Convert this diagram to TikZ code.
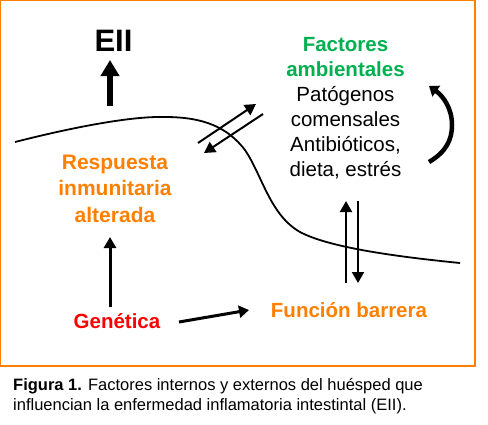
\documentclass[tikz,border=0pt]{standalone}
\usepackage{fontspec}
\setmainfont{Liberation Sans}
\usetikzlibrary{arrows.meta}
\definecolor{orng}{RGB}{255,128,0}
\definecolor{grn}{RGB}{0,176,80}
\definecolor{rd}{RGB}{255,0,0}
\begin{document}
\begin{tikzpicture}[x=1pt,y=-1pt,
  lbl/.style={inner sep=0pt,anchor=base,align=center},
  conn/.style={line width=2pt,-{Triangle[length=11pt,width=12pt]}},
  thickconn/.style={line width=3pt,-{Triangle[length=11pt,width=12pt]}}]
\useasboundingbox (0,0) rectangle (488,424);
\fill[white] (0,0) rectangle (488,424);
\draw[orng,line width=1.4pt] (0.7,0.7) rectangle (475,366);
% curve
\draw[line width=1.8pt] (15,142) .. controls (70,128) and (130,116) .. (165,117)
  .. controls (205,117) and (228,128) .. (245,150)
  .. controls (262,175) and (270,215) .. (300,232)
  .. controls (330,248) and (400,257) .. (460,263);
% labels (base anchor = baseline of last line)
\node[lbl,font=\fontsize{31}{31}\selectfont\bfseries] (eii) at (113.5,51) {EII};
\node[lbl,font=\fontsize{20.5}{25}\selectfont] (amb) at (345.5,176)
  {\textcolor{grn}{\bfseries Factores}\\\textcolor{grn}{\bfseries ambientales}\\Patógenos\\comensales\\Antibióticos,\\dieta, estrés};
\node[lbl,font=\fontsize{21}{26.5}\selectfont\bfseries,text=orng] (resp) at (115,222)
  {Respuesta\\inmunitaria\\alterada};
\node[lbl,font=\fontsize{20.5}{25}\selectfont\bfseries,text=rd] (gen) at (117,328) {Genética};
\node[lbl,font=\fontsize{20.5}{25}\selectfont\bfseries,text=orng] (barr) at (349,317) {Función barrera};
\node[inner sep=0pt,anchor=base west,align=left,font=\fontsize{16.5}{20}\selectfont] (cap) at (13,410)
  {\textbf{Figura 1.} Factores internos y externos del huésped que\\influencian la enfermedad inflamatoria intestintal (EII).};
% connector end points
\coordinate (eiiS) at (110,106);
\coordinate (eiiT) at (110,60);
\coordinate (genS) at (110,307);
\coordinate (respT) at (110,237);
\coordinate (genR) at (179,322);
\coordinate (barrL) at (249,310);
\coordinate (respR) at (204,153);
\coordinate (respR2) at (198,143);
\coordinate (ambL) at (256,104);
\coordinate (ambL2) at (263,114);
\coordinate (barrU) at (346,283);
\coordinate (ambD) at (346,201);
\coordinate (ambD2) at (358,201);
\coordinate (barrU2) at (358,283);
\coordinate (loopA) at (429,162);
\coordinate (loopB) at (429,86);
% connectors
\draw[line width=6pt,-{Triangle[length=16pt,width=18pt]}] (eiiS) -- (eiiT);
\draw[thickconn] (genS) -- (respT);
\draw[thickconn,-{Triangle[length=10pt,width=12pt]}] (genR) -- (barrL);
\draw[conn] (respR2) -- (ambL);
\draw[conn] (ambL2) -- (respR);
\draw[conn] (barrU) -- (ambD);
\draw[conn] (ambD2) -- (barrU2);
\draw[line width=4.5pt,-{Triangle[length=9pt,width=13pt]}] (loopA)
  .. controls (446,152) and (452,140) .. (452,125)
  .. controls (452,108) and (443,96) .. (loopB);
\end{tikzpicture}
\end{document}
